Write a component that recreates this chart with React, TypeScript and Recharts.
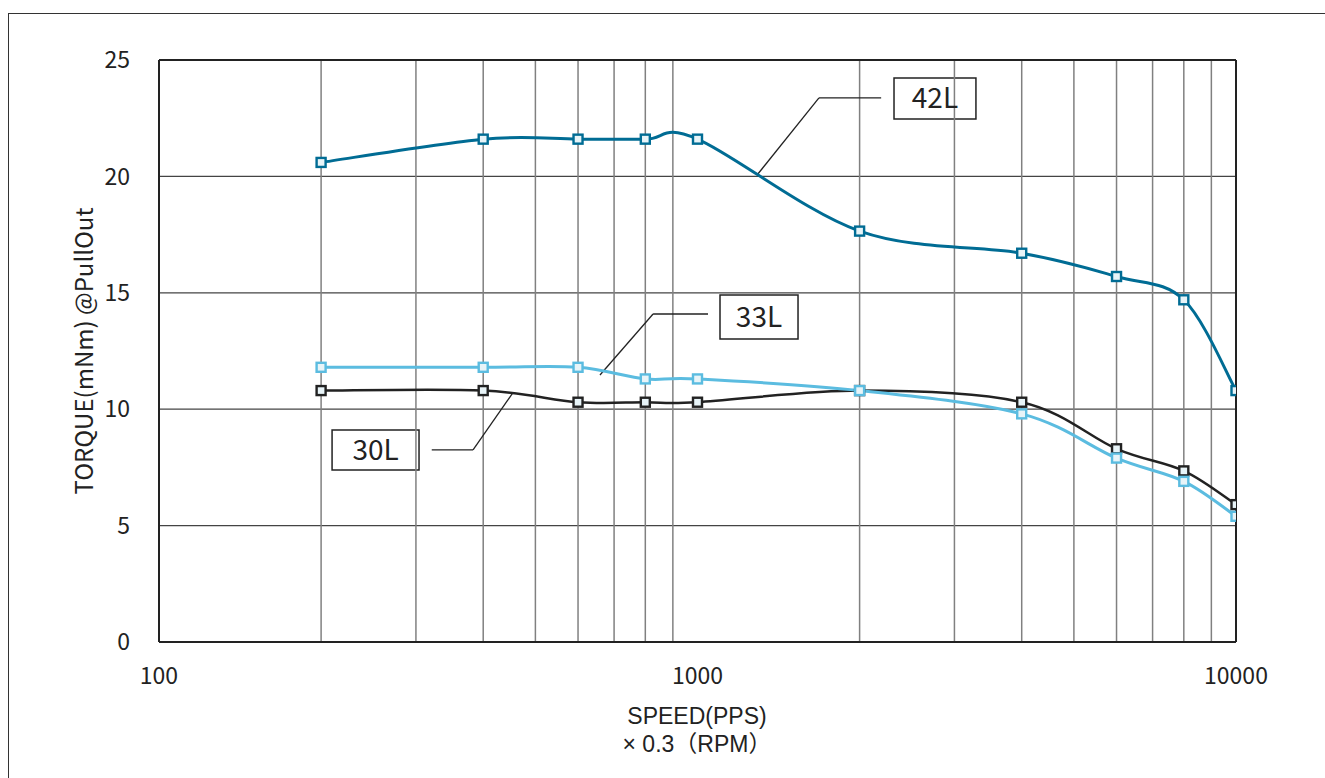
import React from "react";
import {
  LineChart,
  Line,
  XAxis,
  YAxis,
  CartesianGrid,
  ReferenceLine,
  ReferenceArea,
} from "recharts";

const speeds = [200, 400, 600, 800, 1000, 2000, 4000, 6000, 8000, 10000];
const torque42L = [20.6, 21.6, 21.6, 21.6, 21.6, 17.65, 16.7, 15.7, 14.7, 10.8];
const torque33L = [11.8, 11.8, 11.8, 11.3, 11.3, 10.8, 9.8, 7.9, 6.9, 5.4];
const torque30L = [10.8, 10.8, 10.3, 10.3, 10.3, 10.8, 10.3, 8.3, 7.35, 5.9];

const xTicks = [100, 1000, 10000];
const yTicks = [0, 5, 10, 15, 20, 25];
const minorX = [200, 300, 400, 500, 600, 700, 800, 900, 2000, 3000, 4000, 5000, 6000, 7000, 8000, 9000];

const data = speeds.map((s, i) => ({
  speed: s,
  l42: torque42L[i],
  l33: torque33L[i],
  l30: torque30L[i],
}));

// label boxes + callouts, in data units
const tags = [
  {
    name: "42L",
    box: [2317, 3289, 22.47, 24.23],
    leader: [
      [2193, 23.37],
      [1681, 23.37],
      [1290, 20.06],
    ],
  },
  {
    name: "33L",
    box: [1101, 1537, 13.02, 14.91],
    leader: [
      [1046, 14.09],
      [827, 14.09],
      [659, 11.47],
    ],
  },
  {
    name: "30L",
    box: [209.6, 304, 7.39, 9.11],
    leader: [
      [321, 8.25],
      [383, 8.25],
      [454, 10.7],
    ],
  },
];

// excel-like smoothed line (bezier through points)
const smoothCurve: any = (context: any) => {
  let pts: number[][] = [];
  return {
    areaStart() {},
    areaEnd() {},
    lineStart() {
      pts = [];
    },
    point(x: number, y: number) {
      pts.push([+x, +y]);
    },
    lineEnd() {
      if (!pts.length) return;
      context.moveTo(pts[0][0], pts[0][1]);
      for (let i = 0; i < pts.length - 1; i++) {
        const p0 = pts[i - 1] || pts[i];
        const p1 = pts[i];
        const p2 = pts[i + 1];
        const p3 = pts[i + 2] || p2;
        context.bezierCurveTo(
          p1[0] + (p2[0] - p0[0]) / 6,
          p1[1] + (p2[1] - p0[1]) / 6,
          p2[0] - (p3[0] - p1[0]) / 6,
          p2[1] - (p3[1] - p1[1]) / 6,
          p2[0],
          p2[1]
        );
      }
    },
  };
};

const squareDot = (color: string) => (props: any) => {
  const { cx, cy, index } = props;
  if (cx == null || cy == null) return <g key={index} />;
  return (
    <rect
      key={index}
      x={cx - 4.5}
      y={cy - 4.5}
      width={9}
      height={9}
      fill="#e8f4f8"
      stroke={color}
      strokeWidth={2.4}
    />
  );
};

const font = '"Noto Sans CJK JP", "Liberation Sans", sans-serif';
const titleFont = '"Liberation Sans", "Noto Sans CJK JP", sans-serif';

export default function App() {
  return (
    <div
      style={{
        position: "fixed",
        left: 0,
        top: 0,
        width: 1325,
        height: 778,
        overflow: "hidden",
        background: "white",
        fontFamily: font,
        color: "#222",
      }}
    >
      <div
        style={{
          position: "absolute",
          left: 8,
          top: 13,
          width: 1340,
          height: 800,
          border: "1.5px solid #333",
        }}
      />
      <div style={{ position: "absolute", left: 0, top: 0 }}>
        <LineChart
          width={1325}
          height={778}
          data={data}
          margin={{ top: 60, right: 89, left: 0, bottom: 86 }}
        >
          <CartesianGrid vertical={false} stroke="#444" strokeWidth={1.2} />
          {minorX.map((v) => (
            <ReferenceLine key={v} x={v} stroke="#808080" strokeWidth={1.5} />
          ))}
          <ReferenceLine y={25} stroke="#222" strokeWidth={2} />
          <ReferenceLine x={10000} stroke="#222" strokeWidth={2} />
          <XAxis
            dataKey="speed"
            type="number"
            scale="log"
            domain={[100, 10000]}
            ticks={xTicks}
            allowDataOverflow
            height={50}
            tickSize={0}
            tickMargin={26}
            axisLine={{ stroke: "#222", strokeWidth: 2 }}
            tick={{ fontSize: 23, fill: "#222" }}
          />
          <YAxis
            type="number"
            domain={[0, 25]}
            ticks={yTicks}
            width={159}
            tickSize={0}
            tickMargin={29}
            axisLine={{ stroke: "#222", strokeWidth: 2 }}
            tick={{ fontSize: 23, fill: "#222" }}
          />
          {tags.map((t) => (
            <ReferenceArea
              key={t.name}
              x1={t.box[0]}
              x2={t.box[1]}
              y1={t.box[2]}
              y2={t.box[3]}
              fill="#fff"
              fillOpacity={1}
              stroke="#222"
              strokeWidth={1.5}
              label={{ value: t.name, position: "center", fontSize: 28, fill: "#222" }}
            />
          ))}
          {tags.map((t) =>
            t.leader.slice(0, -1).map((p, i) => (
              <ReferenceLine
                key={t.name + i}
                segment={[
                  { x: p[0], y: p[1] },
                  { x: t.leader[i + 1][0], y: t.leader[i + 1][1] },
                ]}
                stroke="#222"
                strokeWidth={1.3}
              />
            ))
          )}
          <Line
            dataKey="l30"
            type={smoothCurve}
            stroke="#222"
            strokeWidth={2.5}
            dot={squareDot("#222")}
            isAnimationActive={false}
          />
          <Line
            dataKey="l33"
            type={smoothCurve}
            stroke="#5bbce0"
            strokeWidth={3}
            dot={squareDot("#5bbce0")}
            isAnimationActive={false}
          />
          <Line
            dataKey="l42"
            type={smoothCurve}
            stroke="#006c94"
            strokeWidth={3}
            dot={squareDot("#006c94")}
            isAnimationActive={false}
          />
        </LineChart>
      </div>
      <div
        style={{
          position: "absolute",
          left: 83,
          top: 351,
          transform: "translate(-50%, -50%) rotate(-90deg)",
          whiteSpace: "nowrap",
          fontSize: 24,
          lineHeight: "26px",
        }}
      >
        TORQUE(mNm) @PullOut
      </div>
      <div
        style={{
          position: "absolute",
          left: 697,
          top: 716,
          transform: "translate(-50%, -50%)",
          fontFamily: titleFont,
          fontSize: 23,
          lineHeight: "26px",
          whiteSpace: "nowrap",
        }}
      >
        SPEED(PPS)
      </div>
      <div
        style={{
          position: "absolute",
          left: 697,
          top: 744,
          transform: "translate(-50%, -50%)",
          fontFamily: titleFont,
          fontSize: 23,
          lineHeight: "26px",
          whiteSpace: "nowrap",
        }}
      >
        × 0.3（RPM）
      </div>
    </div>
  );
}
